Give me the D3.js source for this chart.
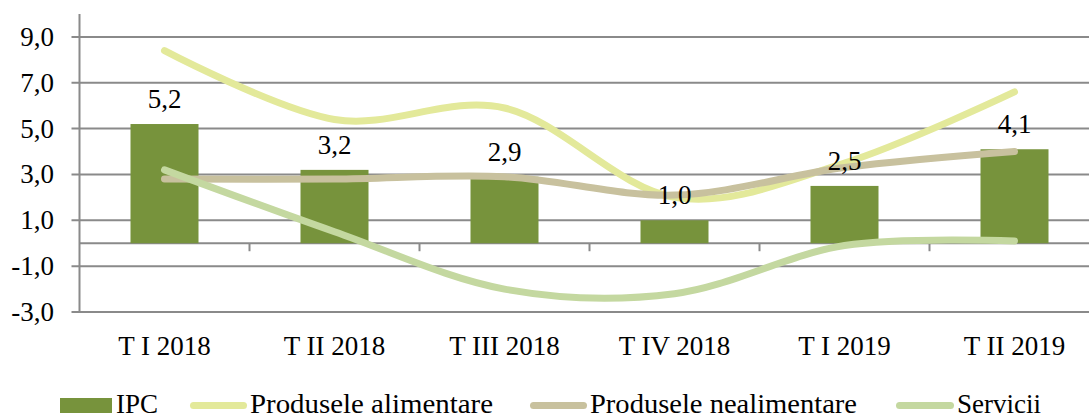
<!DOCTYPE html>
<html>
<head>
<meta charset="utf-8">
<script src="https://cdn.jsdelivr.net/npm/d3@7"></script>
<style>
  html, body { margin: 0; padding: 0; background: #fff; }
  svg { display: block; }
  text { font-family: "Liberation Serif", "Times New Roman", serif; fill: #000; }
</style>
</head>
<body>
<svg id="chart" width="1089" height="419"></svg>
<script>
const categories = ["T I 2018", "T II 2018", "T III 2018", "T IV 2018", "T I 2019", "T II 2019"];
const ipc = [5.2, 3.2, 2.9, 1.0, 2.5, 4.1];
const alimentare = [8.4, 5.4, 5.9, 2.0, 3.5, 6.6];
const nealimentare = [2.8, 2.8, 2.9, 2.1, 3.3, 4.0];
const servicii = [3.2, 0.5, -2.0, -2.2, -0.1, 0.1];
const yTicks = [-3, -1, 1, 3, 5, 7, 9];
const seriesNames = ["IPC", "Produsele alimentare", "Produsele nealimentare", "Servicii"];

const colors = {
  ipc: "#77933c",
  alimentare: "#e3e99a",
  nealimentare: "#c8c19e",
  servicii: "#c4d8a0",
  grid: "#8a8a8a"
};

const svg = d3.select("#chart");
const plotLeft = 79.5, plotRight = 1099.5, plotTop = 14, plotBottom = 312;
const fs = 27;

const x = d3.scaleBand().domain(categories).range([plotLeft, plotRight]).paddingInner(0.6).paddingOuter(0.3);
const step = x.step();
const y = d3.scaleLinear().domain([-3, 10]).range([plotBottom, plotTop]);
const cx = c => x(c) + x.bandwidth() / 2;
const fmt = v => d3.format(".1f")(v).replace(".", ",").replace("\u2212", "-");

// gridlines
svg.append("g").selectAll("line").data(yTicks).join("line")
  .attr("x1", plotLeft - 8).attr("x2", plotRight)
  .attr("y1", d => y(d)).attr("y2", d => y(d))
  .attr("stroke", colors.grid).attr("stroke-width", 2);

// y axis line
svg.append("line").attr("x1", plotLeft).attr("x2", plotLeft).attr("y1", plotTop).attr("y2", plotBottom)
  .attr("stroke", colors.grid).attr("stroke-width", 2);

// y tick labels
svg.append("g").selectAll("text").data(yTicks).join("text")
  .attr("x", 54).attr("y", d => y(d) + 9)
  .attr("text-anchor", "end").attr("font-size", fs)
  .text(d => fmt(d));

// zero axis line + category ticks
svg.append("line").attr("x1", plotLeft).attr("x2", plotRight).attr("y1", y(0)).attr("y2", y(0))
  .attr("stroke", colors.grid).attr("stroke-width", 2);
svg.append("g").selectAll("line").data(categories.slice(1)).join("line")
  .attr("x1", d => x(d) - step * 0.3).attr("x2", d => x(d) - step * 0.3)
  .attr("y1", y(0)).attr("y2", y(0) + 8)
  .attr("stroke", colors.grid).attr("stroke-width", 2);

// bars
svg.append("g").selectAll("rect").data(ipc).join("rect")
  .attr("x", (d, i) => x(categories[i]))
  .attr("width", x.bandwidth())
  .attr("y", d => y(Math.max(0, d)))
  .attr("height", d => Math.abs(y(d) - y(0)))
  .attr("fill", colors.ipc);

// lines
const line = d3.line().x((d, i) => cx(categories[i])).y(d => y(d)).curve(d3.curveCardinal.tension(0));
[[alimentare, colors.alimentare], [nealimentare, colors.nealimentare], [servicii, colors.servicii]].forEach(([data, col]) => {
  svg.append("path").datum(data).attr("d", line)
    .attr("fill", "none").attr("stroke", col).attr("stroke-width", 7)
    .attr("stroke-linecap", "round").attr("stroke-linejoin", "round");
});

// bar labels
svg.append("g").selectAll("text").data(ipc).join("text")
  .attr("x", (d, i) => cx(categories[i]))
  .attr("y", d => y(d) - 16)
  .attr("text-anchor", "middle").attr("font-size", fs)
  .text(d => fmt(d));

// x labels
svg.append("g").selectAll("text").data(categories).join("text")
  .attr("x", d => cx(d)).attr("y", 355)
  .attr("text-anchor", "middle").attr("font-size", fs)
  .text(d => d);

// legend
const lg = svg.append("g");
const legendY = 405.5, legendBase = 413;
lg.append("rect").attr("x", 60).attr("y", 398).attr("width", 52).attr("height", 15).attr("fill", colors.ipc);
lg.append("text").attr("x", 116).attr("y", legendBase).attr("font-size", fs).text(seriesNames[0]);
const legendLines = [
  { x0: 190, x1: 247, tx: 250, len: 243, col: colors.alimentare, name: seriesNames[1] },
  { x0: 530, x1: 587, tx: 590, len: 267, col: colors.nealimentare, name: seriesNames[2] },
  { x0: 896, x1: 954, tx: 957, len: null, col: colors.servicii, name: seriesNames[3] }
];
legendLines.forEach(l => {
  lg.append("line").attr("x1", l.x0 + 3.5).attr("x2", l.x1 - 3.5).attr("y1", legendY).attr("y2", legendY)
    .attr("stroke", l.col).attr("stroke-width", 7).attr("stroke-linecap", "round");
  const t = lg.append("text").attr("x", l.tx).attr("y", legendBase).attr("font-size", fs).text(l.name);
  if (l.len) t.attr("textLength", l.len).attr("lengthAdjust", "spacingAndGlyphs");
});
</script>
</body>
</html>
